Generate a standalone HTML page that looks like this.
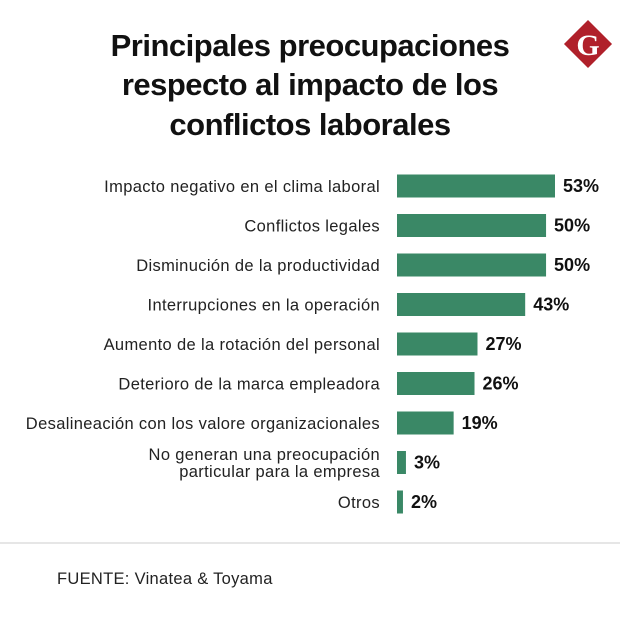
<!DOCTYPE html>
<html><head><meta charset="utf-8"><style>
body{margin:0;background:#fff;width:620px;height:616px;overflow:hidden;font-family:"Liberation Sans",sans-serif;}
</style></head><body>
<svg width="620" height="616" xmlns="http://www.w3.org/2000/svg">
<g font-family="Liberation Sans, sans-serif" font-weight="bold" font-size="31" fill="#111" text-anchor="middle" letter-spacing="-0.5">
<text x="310" y="56">Principales preocupaciones</text>
<text x="310" y="95">respecto al impacto de los</text>
<text x="310" y="135">conflictos laborales</text>
</g>
<g>
<rect x="571" y="27" width="34" height="34" fill="#b0202a" transform="rotate(45 588 44)"/>
<text x="588" y="55" text-anchor="middle" font-family="Liberation Serif, serif" font-weight="bold" font-size="30" fill="#fff">G</text>
</g>
<g id="bars"></g>
<line x1="0" y1="543" x2="620" y2="543" stroke="#ccc" stroke-width="1"/>
<text x="57" y="584" font-size="16.5" fill="#222" letter-spacing="0.3">FUENTE: Vinatea &amp; Toyama</text>
</svg>
<script>
const categories=[["Impacto negativo en el clima laboral"],["Conflictos legales"],["Disminución de la productividad"],["Interrupciones en la operación"],["Aumento de la rotación del personal"],["Deterioro de la marca empleadora"],["Desalineación con los valore organizacionales"],["No generan una preocupación","particular para la empresa"],["Otros"]];
const values=[53,50,50,43,27,26,19,3,2];
const valueLabels=["53%","50%","50%","43%","27%","26%","19%","3%","2%"];
const NS="http://www.w3.org/2000/svg";
const g=document.getElementById('bars');
const x0=397,scale=158/53,y0=186,step=39.5,bh=23;
const xs=v=>v*scale, ys=i=>y0+i*step;
values.forEach((v,i)=>{
 const cy=ys(i);
 const r=document.createElementNS(NS,'rect');
 r.setAttribute('x',x0);r.setAttribute('y',cy-bh/2);r.setAttribute('width',xs(v));r.setAttribute('height',bh);r.setAttribute('fill','#3a8866');
 
 
 g.appendChild(r);
 const t=document.createElementNS(NS,'text');
 t.setAttribute('x',x0+xs(v)+8);t.setAttribute('y',cy+6);t.setAttribute('font-size','18');t.setAttribute('font-weight','bold');t.setAttribute('fill','#111');
 t.textContent=valueLabels[i];
 
 
 g.appendChild(t);
 const lines=categories[i];
 lines.forEach((ln,j)=>{
  const c=document.createElementNS(NS,'text');
  c.setAttribute('x',380);c.setAttribute('text-anchor','end');c.setAttribute('font-size','16.5');c.setAttribute('letter-spacing','0.35');c.setAttribute('fill','#222');
  c.setAttribute('y',cy+6+(j-(lines.length-1)/2)*17);
  c.textContent=ln;
  
  
  g.appendChild(c);
 });
});
</script>
</body></html>
